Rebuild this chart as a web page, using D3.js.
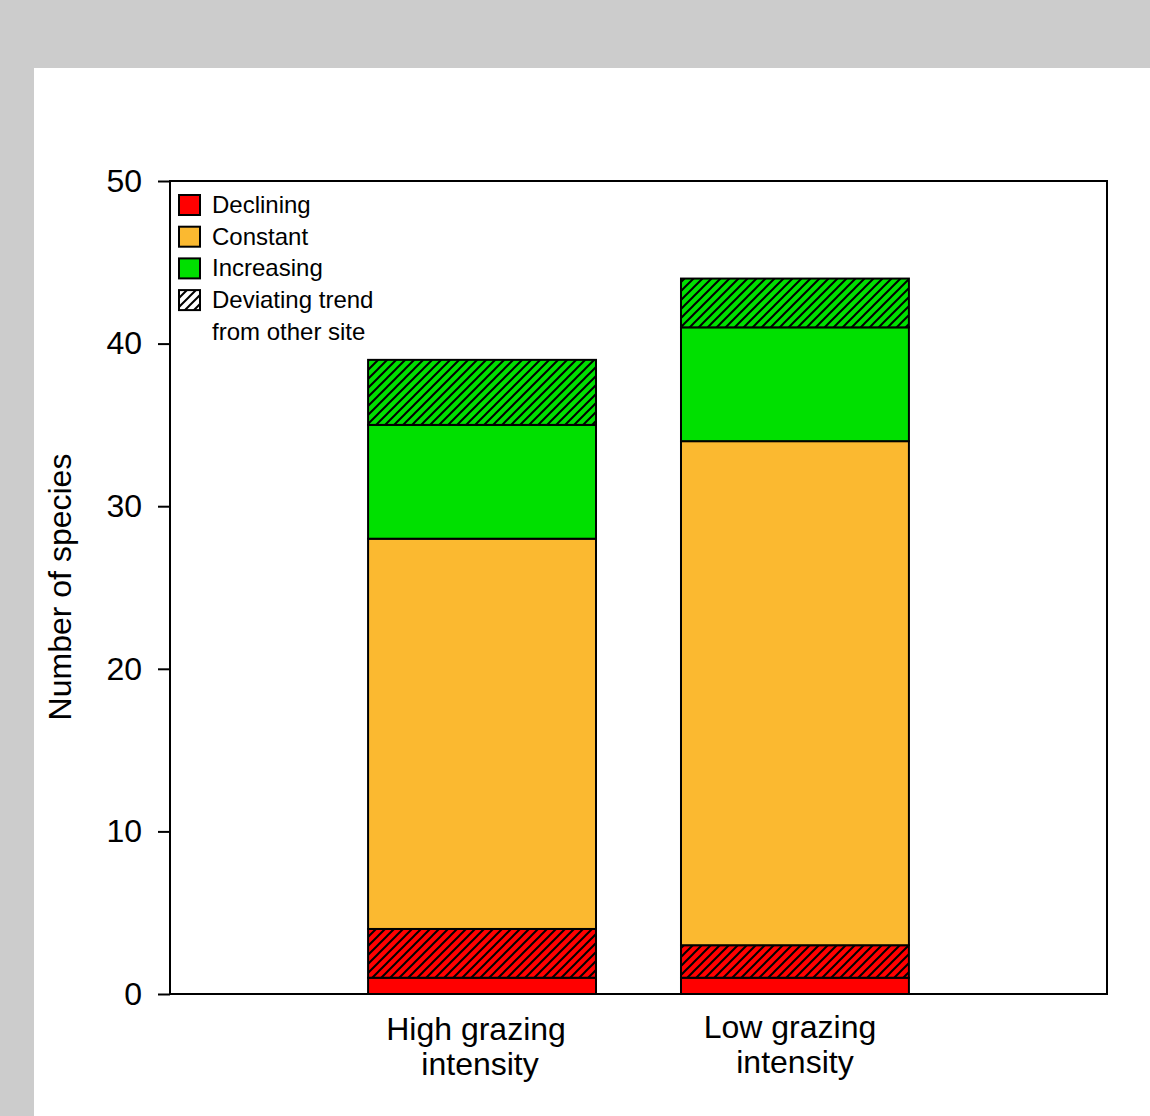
<!DOCTYPE html>
<html><head><meta charset="utf-8">
<script src="https://cdn.jsdelivr.net/npm/d3@7"></script>
<style>body{margin:0;background:#cccccc;} svg{display:block;}</style>
</head><body>
<script>
const categories = ["High grazing intensity", "Low grazing intensity"];
const categoryLines = [["High grazing", "intensity"], ["Low grazing", "intensity"]];
// segments stacked from bottom
const segmentNames = ["Declining", "Declining deviating", "Constant", "Increasing", "Increasing deviating"];
const segmentColors = ["declining", "declining", "constant", "increasing", "increasing"];
const segmentHatched = [false, true, false, false, true];
const highValues = [1, 3, 24, 7, 4];
const lowValues = [1, 2, 31, 7, 3];
const yTicks = [0, 10, 20, 30, 40, 50];
const legendLabels = ["Declining", "Constant", "Increasing", "Deviating trend"];

const colors = {declining: "#ff0000", constant: "#fbb930", increasing: "#00e000"};

(function () {
const W = 1150, H = 1116;
const FONT = "Liberation Sans, Arial, sans-serif";
const svg = d3.select("body").append("svg").attr("width", W).attr("height", H);
svg.append("rect").attr("width", W).attr("height", H).attr("fill", "#cccccc");
svg.append("rect").attr("x", 34).attr("y", 68).attr("width", W - 34).attr("height", H - 68).attr("fill", "#ffffff");

const defs = svg.append("defs");
function hatch(id, bg) {
  const p = defs.append("pattern").attr("id", id).attr("patternUnits", "userSpaceOnUse")
    .attr("width", 9).attr("height", 9);
  if (bg) p.append("rect").attr("width", 9).attr("height", 9).attr("fill", bg);
  p.append("path").attr("d", "M-1,1 L1,-1 M0,9 L9,0 M8,10 L10,8")
    .attr("stroke", "#000").attr("stroke-width", 2);
}
hatch("h-declining", colors.declining);
hatch("h-increasing", colors.increasing);
hatch("h-white", "#ffffff");

const pl = 170, pr = 1107, pt = 181, pb = 994;
const y = d3.scaleLinear().domain([0, 50]).range([pb, pt]);
const x = d3.scaleBand().domain(categories).range([pl, pr]).paddingInner(0.2716).paddingOuter(0.633);

const allValues = [highValues, lowValues];
categories.forEach((c, ci) => {
  let cum = 0;
  allValues[ci].forEach((v, si) => {
    const y0 = cum, y1 = cum + v;
    cum = y1;
    svg.append("rect")
      .attr("x", x(c)).attr("width", x.bandwidth())
      .attr("y", y(y1)).attr("height", y(y0) - y(y1))
      .attr("fill", segmentHatched[si] ? `url(#h-${segmentColors[si]})` : colors[segmentColors[si]])
      .attr("stroke", "#000").attr("stroke-width", 2);
  });
});

svg.append("rect").attr("x", pl).attr("y", pt).attr("width", pr - pl).attr("height", pb - pt)
  .attr("fill", "none").attr("stroke", "#000").attr("stroke-width", 2);

const yAxis = d3.axisLeft(y).tickValues(yTicks).tickSize(12).tickPadding(16);
const ga = svg.append("g").attr("transform", `translate(${pl},0)`).call(yAxis);
ga.select(".domain").remove();
ga.selectAll("line").attr("stroke", "#000").attr("stroke-width", 2);
ga.selectAll("text").attr("font-family", FONT).attr("font-size", 32).attr("fill", "#000");

svg.append("text").attr("transform", `translate(71,587) rotate(-90)`)
  .attr("text-anchor", "middle").attr("font-family", FONT)
  .attr("font-size", 32).text("Number of species");

const labelY = [1040, 1038];
const labelDx = [[-6, -2], [-5, 0]];
categories.forEach((c, ci) => {
  const cx = x(c) + x.bandwidth() / 2;
  const t = svg.append("text").attr("text-anchor", "middle")
    .attr("font-family", FONT).attr("font-size", 32);
  categoryLines[ci].forEach((line, li) => {
    t.append("tspan").attr("x", cx + labelDx[ci][li]).attr("y", labelY[ci] + li * 35).text(line);
  });
});

const legendFills = [colors.declining, colors.constant, colors.increasing, "url(#h-white)"];
legendLabels.forEach((l, i) => {
  const ly = 195 + i * 31.7;
  svg.append("rect").attr("x", 179).attr("y", ly).attr("width", 21).attr("height", 20)
    .attr("fill", legendFills[i]).attr("stroke", "#000").attr("stroke-width", 2);
  svg.append("text").attr("x", 212).attr("y", ly + 18).attr("font-family", FONT)
    .attr("font-size", 24).text(l);
});
svg.append("text").attr("x", 212).attr("y", 195 + 4 * 31.7 + 18).attr("font-family", FONT)
  .attr("font-size", 24).text("from other site");
})();
</script>
</body></html>
